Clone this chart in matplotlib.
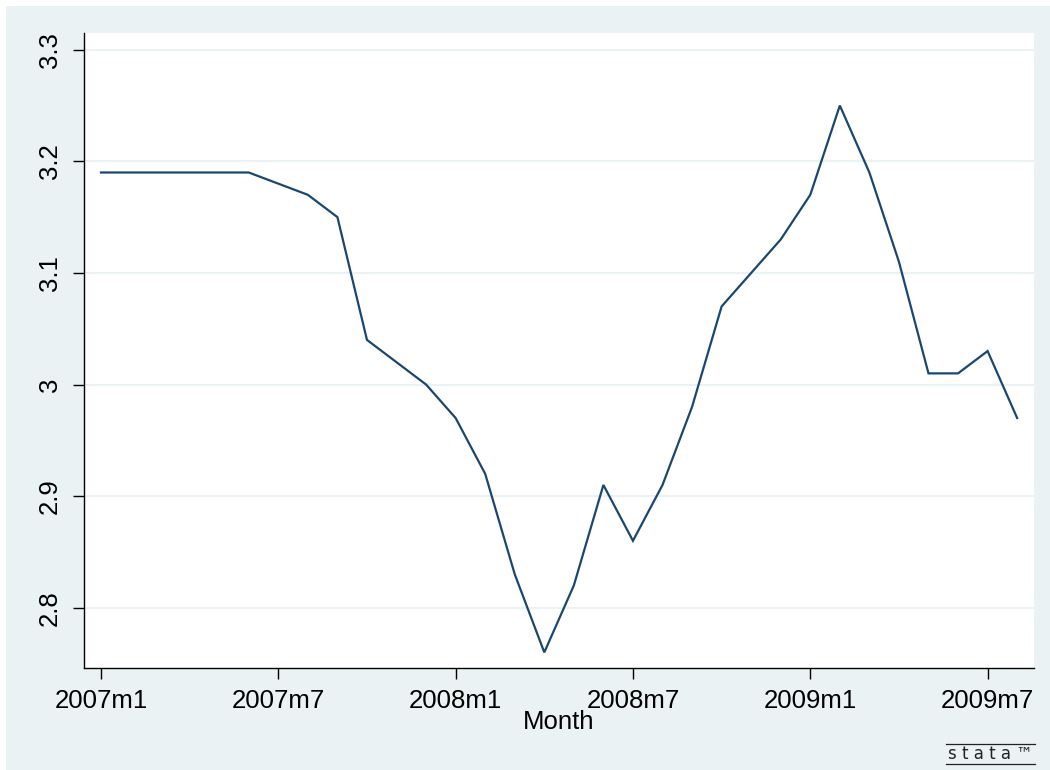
import matplotlib
matplotlib.use("Agg")
import matplotlib.pyplot as plt
from matplotlib.patches import Rectangle
from matplotlib.lines import Line2D

# ---------------------------------------------------------------------------
# Data: monthly series, 2007m1 .. 2009m8
# ---------------------------------------------------------------------------
months = [f"{y}m{m}" for y in (2007, 2008, 2009) for m in range(1, 13)][:32]
values = [
    3.19, 3.19, 3.19, 3.19, 3.19, 3.19, 3.18, 3.17, 3.15, 3.04, 3.02, 3.00,
    2.97, 2.92, 2.83, 2.76, 2.82, 2.91, 2.86, 2.91, 2.98, 3.07, 3.10, 3.13,
    3.17, 3.25, 3.19, 3.11, 3.01, 3.01, 3.03, 2.97,
]
tick_labels = ["2007m1", "2007m7", "2008m1", "2008m7", "2009m1", "2009m7"]
y_ticks = [2.8, 2.9, 3.0, 3.1, 3.2, 3.3]
y_tick_labels = ["2.8", "2.9", "3", "3.1", "3.2", "3.3"]

# ---------------------------------------------------------------------------
# Style (Stata s2color look)
# ---------------------------------------------------------------------------
BG = "#EAF2F3"
LINE = "#1A476F"
FS = 18.5
plt.rcParams["font.family"] = ["Liberation Sans", "DejaVu Sans"]

W, H = 1050, 770
fig = plt.figure(figsize=(W / 100, H / 100), dpi=100, facecolor="white")
fig.patches.append(Rectangle((6 / W, 0), 1 - 6 / W, 1 - 6 / H,
                             transform=fig.transFigure, facecolor=BG,
                             edgecolor="none", zorder=-10))

ax = fig.add_axes([84 / W, 1 - 668 / H, (1034 - 84) / W, (668 - 33) / H])
ax.set_facecolor("white")

x = list(range(len(values)))
ax.plot(x, values, color=LINE, lw=1.6, solid_joinstyle="miter")

ax.set_xlim(-0.575, 31.57)
ax.set_ylim(2.746, 3.315)

ax.set_xticks([months.index(lbl) for lbl in tick_labels])
ax.set_xticklabels(tick_labels, fontsize=FS)
ax.set_yticks(y_ticks)
ax.set_yticklabels(y_tick_labels, fontsize=FS, rotation=90, va="center")

ax.tick_params(axis="both", length=8, width=1.0, color="black")
ax.tick_params(axis="x", pad=7)
ax.tick_params(axis="y", pad=8)

for s in ("top", "right"):
    ax.spines[s].set_visible(False)
for s in ("left", "bottom"):
    ax.spines[s].set_color("black")
    ax.spines[s].set_linewidth(1.0)

ax.grid(axis="y", color=BG, lw=1.5)
ax.set_axisbelow(True)

ax.set_xlabel("Month", fontsize=FS, labelpad=-2)

# Stata logo in the corner
fig.text(990 / W, 1 - 754 / H, "s t a t a ™", fontsize=12, ha="center",
         va="center", color="#222222", family="DejaVu Sans")
for yy in (744, 764):
    fig.add_artist(Line2D([946 / W, 1035 / W], [1 - yy / H, 1 - yy / H],
                          transform=fig.transFigure, color="#222222", lw=0.9))

fig.savefig("out.png", dpi=100, facecolor=fig.get_facecolor())
